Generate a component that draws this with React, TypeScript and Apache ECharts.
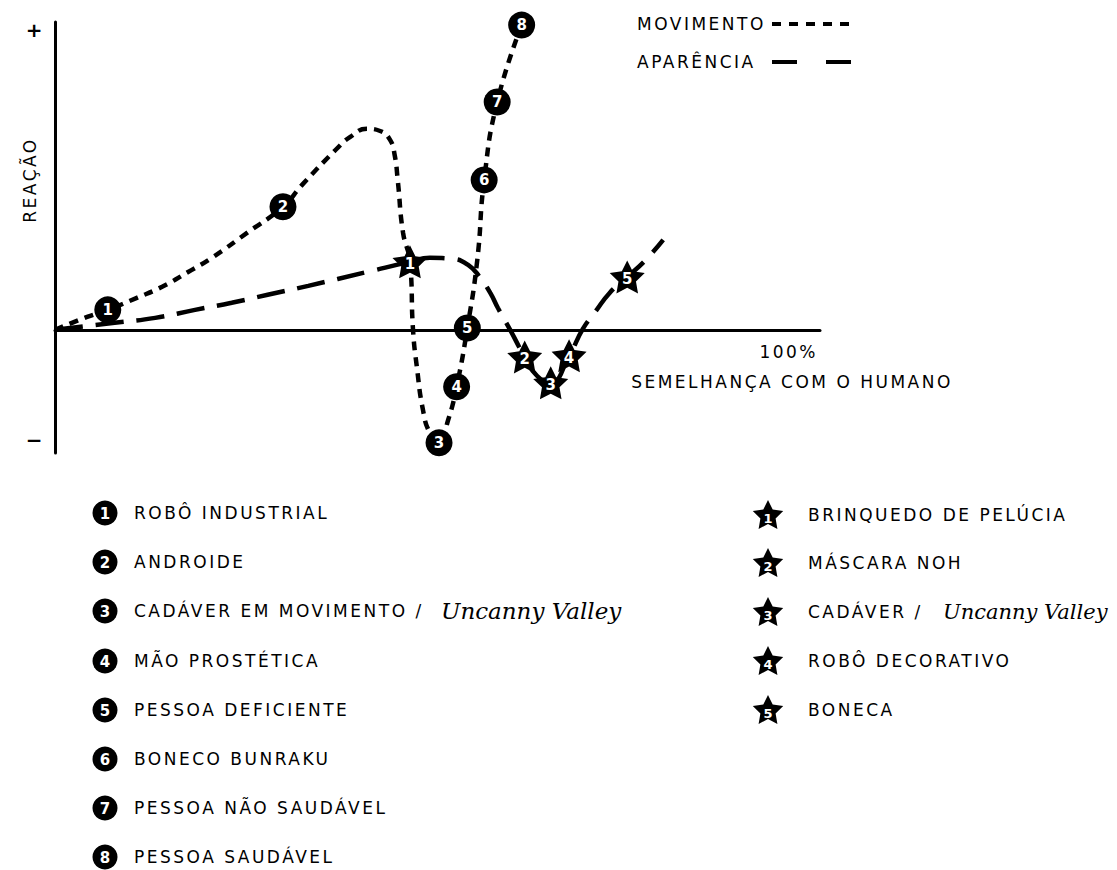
import React, { useEffect, useRef } from 'react';
import * as echarts from 'echarts';

// Movement ("MOVIMENTO") curve: [human likeness %, reaction]
const movementCurve: number[][] = [
  [0, 0], [4.2, 4.2], [6.9, 6.5], [10.7, 10.4], [14.0, 14.0], [17.4, 18.8], [20.5, 23.4],
  [25.1, 31.5], [29.8, 40.0], [32.3, 47.1], [36.7, 58.5], [38.6, 62.7], [40.8, 65.3],
  [42.5, 64.6], [43.8, 61.7], [44.4, 56.8], [44.8, 48.7], [45.5, 31.5], [46.4, 22.1],
  [46.8, 0], [47.3, -12.0], [48.1, -26.0], [49.0, -33.5], [50.2, -36.7], [51.4, -29.2],
  [52.5, -18.5], [53.9, 0.6], [55.2, 22.7], [56.1, 48.7], [57.8, 74.0], [61.0, 99.0],
];

// Appearance ("APARÊNCIA") curve
const appearanceCurve: number[][] = [
  [0, 0], [7.8, 2.3], [13.1, 3.9], [18.3, 6.5], [23.1, 8.8], [27.8, 11.4], [33.1, 14.3],
  [40.8, 18.8], [46.4, 22.1], [49.0, 23.4], [51.9, 23.1], [54.0, 21.1], [55.6, 16.9],
  [56.9, 12.0], [57.9, 7.1], [59.5, 0], [61.4, -8.8], [63.0, -14.9], [64.8, -17.2],
  [67.2, -8.4], [69.0, 0.3], [70.6, 5.8], [72.5, 12.0], [74.8, 17.2], [77.1, 22.4], [79.5, 29.2],
];

// Numbered markers on the movement curve
const movementMarkerX = [6.9, 29.8, 50.2, 52.5, 53.9, 56.1, 57.8, 61.0];
const movementMarkerY = [6.5, 40.0, -36.7, -18.5, 0.6, 48.7, 74.0, 99.0];
const movementNames = [
  'ROBÔ INDUSTRIAL', 'ANDROIDE', 'CADÁVER EM MOVIMENTO /', 'MÃO PROSTÉTICA',
  'PESSOA DEFICIENTE', 'BONECO BUNRAKU', 'PESSOA NÃO SAUDÁVEL', 'PESSOA SAUDÁVEL',
];

// Numbered stars on the appearance curve
const appearanceMarkerX = [46.4, 61.4, 64.8, 67.2, 74.8];
const appearanceMarkerY = [22.1, -8.8, -17.2, -8.4, 17.2];
const appearanceNames = ['BRINQUEDO DE PELÚCIA', 'MÁSCARA NOH', 'CADÁVER /', 'ROBÔ DECORATIVO', 'BONECA'];
const italicSuffix = 'Uncanny Valley';

const FONT = "'DejaVu Sans', sans-serif";
const STAR_PATH =
  'path://M50,0 L64.69,29.77 L97.55,34.55 L73.78,57.73 L79.39,90.45 L50,75 L20.61,90.45 L26.22,57.73 L2.45,34.55 L35.31,29.77 Z';

function starPoints(cx: number, cy: number, R: number): number[][] {
  const pts: number[][] = [];
  const r = R * 0.5;
  for (let i = 0; i < 10; i++) {
    const a = -Math.PI / 2 + (i * Math.PI) / 5;
    const rad = i % 2 === 0 ? R : r;
    pts.push([cx + rad * Math.cos(a), cy + rad * Math.sin(a)]);
  }
  return pts;
}

const CSS = `
#chartbox text { letter-spacing: 2.5px; }
#chartbox text[style*="italic"], #chartbox text[style*="bold"] { letter-spacing: 0; }
`;

export default function App() {
  const ref = useRef<HTMLDivElement>(null);
  useEffect(() => {
    if (!ref.current) return;
    const chart = echarts.init(ref.current, undefined, { renderer: 'svg' });

    const graphic: any[] = [];
    const txt = (text: string, x: number, y: number, align = 'left', extra: any = {}, style: any = {}) => ({
      type: 'text',
      x,
      y,
      ...extra,
      style: {
        text,
        fill: '#000',
        fontFamily: FONT,
        fontSize: 17,
        textAlign: align,
        textVerticalAlign: 'middle',
        ...style,
      },
    });
    const italic = (size: number) => ({ fontFamily: "'DejaVu Serif', serif", fontStyle: 'italic', fontSize: size });
    const numStyle = (size: number) => ({ fill: '#fff', fontSize: size, fontWeight: 'bold' });

    graphic.push(txt('+', 34, 30, 'center', {}, { fontSize: 20, fontWeight: 'bold' }));
    graphic.push(txt('−', 34, 440, 'center', {}, { fontSize: 20, fontWeight: 'bold' }));
    graphic.push(txt('REAÇÃO', 30, 180, 'center', { rotation: Math.PI / 2 }));
    graphic.push(txt('100%', 818, 352, 'right'));
    graphic.push(txt('SEMELHANÇA COM O HUMANO', 792, 382, 'center'));

    // Top legend
    graphic.push(txt('MOVIMENTO', 637, 24));
    graphic.push({ type: 'line', shape: { x1: 772, y1: 24, x2: 849, y2: 24 }, style: { stroke: '#000', lineWidth: 4, lineDash: [9, 8] } });
    graphic.push(txt('APARÊNCIA', 637, 62));
    graphic.push({ type: 'line', shape: { x1: 772, y1: 62, x2: 851, y2: 62 }, style: { stroke: '#000', lineWidth: 4, lineDash: [25, 29] } });

    // Bottom legend, circles
    const leftY = [513, 562, 611, 661, 710, 759, 808, 857];
    movementNames.forEach((name, i) => {
      graphic.push({ type: 'circle', shape: { cx: 105, cy: leftY[i], r: 12.5 }, style: { fill: '#000' } });
      graphic.push(txt(String(i + 1), 105, leftY[i] + 1, 'center', {}, numStyle(15)));
      graphic.push(txt(name, 134, leftY[i]));
    });
    graphic.push(txt(italicSuffix, 441, 611, 'left', {}, italic(23)));
    // Bottom legend, stars
    const rightY = [515, 563, 612, 661, 710];
    appearanceNames.forEach((name, i) => {
      graphic.push({ type: 'polygon', shape: { points: starPoints(768, rightY[i] + 1, 16) }, style: { fill: '#000' } });
      graphic.push(txt(String(i + 1), 768, rightY[i] + 3, 'center', {}, numStyle(13)));
      graphic.push(txt(name, 808, rightY[i]));
    });
    graphic.push(txt(italicSuffix, 943, 612, 'left', {}, italic(21)));

    chart.setOption({
      animation: false,
      grid: { left: 55, right: 297, top: 22, bottom: 417 },
      xAxis: {
        type: 'value',
        min: 0,
        max: 100,
        interval: 20,
        axisLine: { show: true, onZero: true, lineStyle: { color: '#000', width: 3 } },
        axisTick: { show: false },
        splitLine: { show: false },
        axisLabel: { show: false },
      },
      yAxis: {
        type: 'value',
        min: -40,
        max: 100,
        interval: 10,
        axisLine: { show: true, onZero: false, lineStyle: { color: '#000', width: 3 } },
        axisTick: { show: false },
        splitLine: { show: false },
        axisLabel: { show: false },
      },
      series: [
        {
          type: 'line',
          data: appearanceCurve,
          smooth: 0.5,
          symbol: 'none',
          lineStyle: { color: '#000', width: 4.5, type: [28, 13], cap: 'butt' },
          z: 2,
        },
        {
          type: 'line',
          data: movementCurve,
          smooth: 0.5,
          symbol: 'none',
          clip: false,
          lineStyle: { color: '#000', width: 4.5, type: [9, 7], cap: 'butt' },
          z: 3,
        },
        {
          type: 'scatter',
          symbol: STAR_PATH,
          symbolSize: [35, 33],
          itemStyle: { color: '#000', opacity: 1 },
          data: appearanceMarkerX.map((x, i) => ({ name: String(i + 1), value: [x, appearanceMarkerY[i]] })),
          label: { show: true, position: 'inside', formatter: '{b}', color: '#fff', fontSize: 15, fontWeight: 'bold', fontFamily: FONT, offset: [0, 2] },
          z: 5,
        },
        {
          type: 'scatter',
          symbol: 'circle',
          symbolSize: 27,
          clip: false,
          itemStyle: { color: '#000', opacity: 1 },
          data: movementMarkerX.map((x, i) => ({ name: String(i + 1), value: [x, movementMarkerY[i]] })),
          label: { show: true, position: 'inside', formatter: '{b}', color: '#fff', fontSize: 15, fontWeight: 'bold', fontFamily: FONT },
          z: 6,
        },
      ],
      graphic,
    });
    return () => chart.dispose();
  }, []);
  return (
    <>
      <style>{CSS}</style>
      <div id="chartbox" ref={ref} style={{ position: 'fixed', left: 0, top: 0, width: 1117, height: 870, background: '#fff' }} />
    </>
  );
}
